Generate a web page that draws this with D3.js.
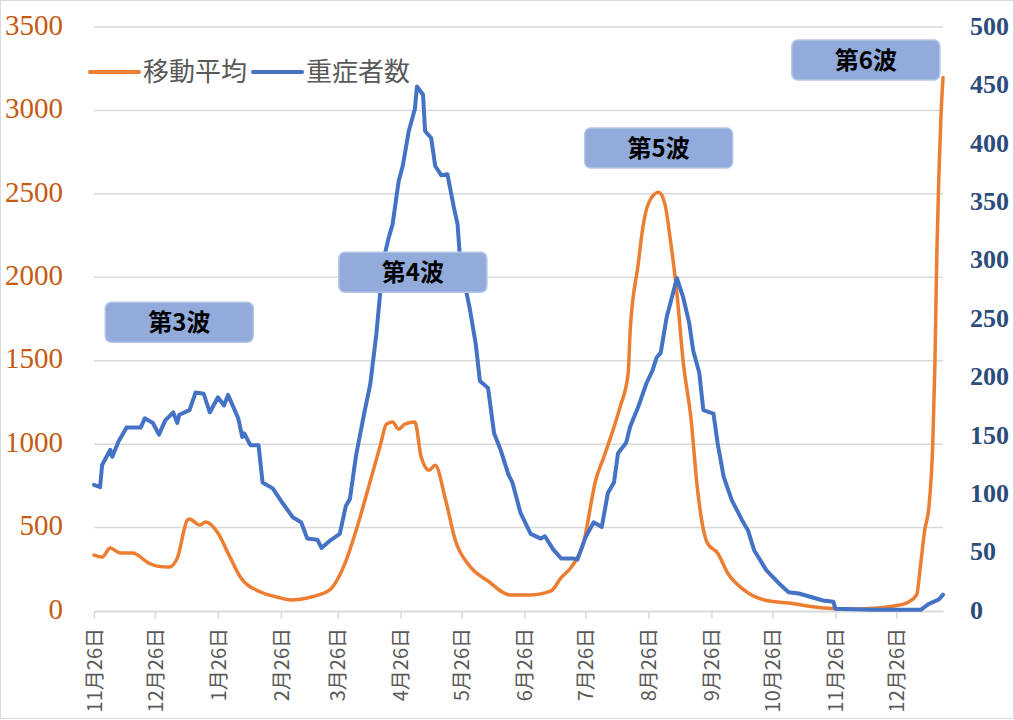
<!DOCTYPE html>
<html>
<head>
<meta charset="utf-8">
<script src="https://cdn.jsdelivr.net/npm/d3@7"></script>
<style>
  body { margin: 0; background: #fff; }
</style>
</head>
<body>
<script>
// 移動平均 (left axis)
const avgDates = [
  '2020-11-26','2020-11-30','2020-12-04','2020-12-09','2020-12-15','2020-12-23','2020-12-27',
  '2021-01-02','2021-01-06','2021-01-11','2021-01-12','2021-01-17','2021-01-20','2021-01-26','2021-01-31',
  '2021-02-06','2021-02-16','2021-02-24','2021-03-03','2021-03-13','2021-03-22','2021-03-29',
  '2021-04-05','2021-04-11','2021-04-16','2021-04-19','2021-04-22','2021-04-25','2021-04-28',
  '2021-05-03','2021-05-06','2021-05-10','2021-05-13','2021-05-18','2021-05-23','2021-05-30',
  '2021-06-08','2021-06-19','2021-06-29','2021-07-09','2021-07-14','2021-07-19','2021-07-25','2021-07-31',
  '2021-08-04','2021-08-09','2021-08-12','2021-08-16','2021-08-17','2021-08-21','2021-08-23','2021-08-26','2021-08-31',
  '2021-09-03','2021-09-06','2021-09-09','2021-09-12','2021-09-16','2021-09-19','2021-09-24','2021-09-29',
  '2021-10-04','2021-10-12','2021-10-22','2021-11-03','2021-11-19','2021-11-25','2021-12-09','2021-12-25',
  '2022-01-01','2022-01-05','2022-01-07','2022-01-09','2022-01-11','2022-01-13','2022-01-14','2022-01-15',
  '2022-01-16','2022-01-17','2022-01-18'
]
const avgValues = [
  335, 323, 377, 347, 347, 287, 269,
  263, 317, 545, 551, 515, 533, 467, 347,
  204, 114, 84, 66, 84, 126, 269,
  521, 778, 994, 1120, 1132, 1090, 1120,
  1132, 928, 844, 874, 671, 419, 269,
  180, 96, 96, 120, 200, 263, 407, 784,
  922, 1102, 1222, 1425, 1683, 2084, 2281, 2443, 2509,
  2443, 2204, 1904, 1503, 1144, 743, 407, 347,
  228, 126, 66, 48, 20, 15, 12, 30,
  54, 96, 281, 485, 617, 1018, 1473, 2162,
  2623, 2964, 3198
]

// 重症者数 (right axis)
const severeDates = [
  '2020-11-26','2020-11-29','2020-11-30','2020-12-04','2020-12-05','2020-12-08','2020-12-12','2020-12-19',
  '2020-12-21','2020-12-25','2020-12-28','2020-12-31',
  '2021-01-04','2021-01-06','2021-01-07','2021-01-12','2021-01-15','2021-01-19','2021-01-22','2021-01-26',
  '2021-01-29','2021-01-31','2021-02-05','2021-02-07','2021-02-08','2021-02-11','2021-02-15','2021-02-17',
  '2021-02-22','2021-02-27','2021-03-04','2021-03-08','2021-03-11','2021-03-16','2021-03-18','2021-03-22',
  '2021-03-27','2021-03-30','2021-04-01','2021-04-04','2021-04-08','2021-04-11','2021-04-14','2021-04-16',
  '2021-04-18','2021-04-20','2021-04-22','2021-04-25','2021-04-27','2021-04-30','2021-05-03','2021-05-04',
  '2021-05-07','2021-05-08','2021-05-11','2021-05-13','2021-05-16','2021-05-19','2021-05-22','2021-05-24',
  '2021-05-25','2021-05-28','2021-05-30','2021-06-02','2021-06-04','2021-06-08','2021-06-11','2021-06-14',
  '2021-06-18','2021-06-20','2021-06-24','2021-06-29','2021-07-04','2021-07-06','2021-07-10','2021-07-14',
  '2021-07-20','2021-07-22','2021-07-26','2021-07-30','2021-08-03','2021-08-06','2021-08-09','2021-08-11',
  '2021-08-15','2021-08-17','2021-08-21','2021-08-25','2021-08-28','2021-08-30','2021-09-01','2021-09-04',
  '2021-09-06','2021-09-09','2021-09-12','2021-09-15','2021-09-17','2021-09-20','2021-09-22','2021-09-27',
  '2021-09-29','2021-10-02','2021-10-06','2021-10-11','2021-10-14','2021-10-17','2021-10-23','2021-10-29',
  '2021-11-03','2021-11-08','2021-11-14','2021-11-20','2021-11-25','2021-11-26','2021-12-14',
  '2022-01-07','2022-01-11','2022-01-16','2022-01-18'
]
const severeValues = [
  108, 106, 125, 138, 132, 145, 157, 157,
  165, 161, 151, 163,
  170, 161, 168, 172, 187, 186, 170, 183,
  176, 185, 165, 149, 152, 142, 142, 110,
  105, 92, 80, 76, 62, 61, 54, 60,
  66, 90, 96, 133, 169, 194, 237, 274,
  304, 319, 331, 368, 381, 411, 430, 449,
  442, 411, 405, 381, 373, 374, 347, 331,
  307, 276, 259, 228, 197, 191, 152, 139,
  117, 110, 84, 66, 62, 64, 53, 45,
  45, 44, 63, 76, 72, 101, 110, 135,
  144, 158, 175, 195, 206, 217, 221, 252,
  265, 285, 269, 247, 223, 204, 172, 169,
  144, 115, 95, 78, 69, 52, 35, 24,
  16, 15, 12, 9, 8, 2, 1,
  1, 6, 10, 14
]

const tickDates = [
  '2020-11-26','2020-12-26','2021-01-26','2021-02-26','2021-03-26','2021-04-26','2021-05-26',
  '2021-06-26','2021-07-26','2021-08-26','2021-09-26','2021-10-26','2021-11-26','2021-12-26'
]
const leftTicks = [0, 500, 1000, 1500, 2000, 2500, 3000, 3500]
const rightTicks = [0, 50, 100, 150, 200, 250, 300, 350, 400, 450, 500]
const seriesNames = ['移動平均', '重症者数']
const waveLabels = ['第3波', '第4波', '第5波', '第6波']
const waveDates = ['2021-01-07', '2021-05-02', '2021-08-31', '2021-12-11']
const waveValues = [1730, 2030, 2775, 3302]

const config = {
  width: 1014,
  height: 720,
  left: 94,
  right: 943,
  top: 27,
  bottom: 611,
  gridColor: '#d9d9d9',
  avgColor: '#ed7d31',
  severeColor: '#4472c4',
  leftTextColor: '#c55a11',
  rightTextColor: '#2c4d7b',
  textColor: '#595959',
  boxFill: '#92abdb',
  boxStroke: '#b4c5e8',
  boxWidth: 148,
  boxHeight: 40,
  cjk: '"Noto Sans CJK JP", "Noto Sans", sans-serif',
  serif: '"Liberation Serif", "DejaVu Serif", serif'
}

const parse = d3.timeParse('%Y-%m-%d')

const root = d3.select('body')
  .append('svg')
  .attr('width', config.width)
  .attr('height', config.height)
  .style('display', 'block')

// outer frame
root.append('rect')
  .attr('x', 0.5).attr('y', 0.5)
  .attr('width', config.width - 1).attr('height', config.height - 2)
  .attr('fill', '#fff')
  .attr('stroke', config.gridColor)

const x = d3.scaleTime()
  .domain([parse('2020-11-26'), parse('2022-01-18')])
  .range([config.left, config.right])
const yLeft = d3.scaleLinear().domain([0, 3500]).range([config.bottom, config.top])
const yRight = d3.scaleLinear().domain([0, 500]).range([config.bottom, config.top])

// gridlines (left axis)
root.append('g').selectAll('line')
  .data(leftTicks.filter(d => d > 0)).enter().append('line')
  .attr('x1', config.left).attr('x2', config.right)
  .attr('y1', d => yLeft(d)).attr('y2', d => yLeft(d))
  .attr('stroke', config.gridColor)
  .attr('stroke-width', 1.5)

// x axis
const xAxis = root.append('g')
  .attr('transform', `translate(0,${config.bottom})`)
  .call(d3.axisBottom(x)
    .tickValues(tickDates.map(parse))
    .tickFormat(d3.timeFormat('%-m月%d日'))
    .tickSize(8)
    .tickSizeOuter(0))
xAxis.select('.domain').attr('stroke', config.gridColor).attr('stroke-width', 2)
xAxis.selectAll('.tick line').attr('stroke', config.gridColor).attr('stroke-width', 1.5)
xAxis.selectAll('.tick text')
  .attr('transform', 'rotate(-90)')
  .attr('x', -17)
  .attr('y', 0)
  .attr('dy', '0.36em')
  .attr('text-anchor', 'end')
  .attr('fill', config.textColor)
  .style('font-family', config.cjk)
  .style('font-size', '20px')

// left axis labels
const leftAxis = root.append('g')
  .attr('transform', `translate(${config.left},0)`)
  .call(d3.axisLeft(yLeft).tickValues(leftTicks).tickFormat(d3.format('d')).tickSize(0).tickPadding(31))
leftAxis.select('.domain').remove()
leftAxis.selectAll('text')
  .attr('dy', '0.25em')
  .attr('fill', config.leftTextColor)
  .style('font-family', config.serif)
  .style('font-size', '29px')

// right axis labels
const rightAxis = root.append('g')
  .attr('transform', `translate(${config.right},0)`)
  .call(d3.axisRight(yRight).tickValues(rightTicks).tickFormat(d3.format('d')).tickSize(0).tickPadding(27))
rightAxis.select('.domain').remove()
rightAxis.selectAll('text')
  .attr('dy', '0.28em')
  .attr('fill', config.rightTextColor)
  .style('font-family', config.serif)
  .style('font-weight', 'bold')
  .style('font-size', '26px')

// series
const avgData = avgDates.map((d, i) => ({ date: parse(d), value: avgValues[i] }))
const severeData = severeDates.map((d, i) => ({ date: parse(d), value: severeValues[i] }))

root.append('path')
  .datum(avgData)
  .attr('fill', 'none')
  .attr('stroke', config.avgColor)
  .attr('stroke-width', 3.5)
  .attr('stroke-linejoin', 'round')
  .attr('stroke-linecap', 'round')
  .attr('d', d3.line().x(d => x(d.date)).y(d => yLeft(d.value)).curve(d3.curveMonotoneX))

root.append('path')
  .datum(severeData)
  .attr('fill', 'none')
  .attr('stroke', config.severeColor)
  .attr('stroke-width', 4)
  .attr('stroke-linejoin', 'round')
  .attr('stroke-linecap', 'round')
  .attr('d', d3.line().x(d => x(d.date)).y(d => yRight(d.value)))

// legend
const legendColors = [config.avgColor, config.severeColor]
const legendX = [90, 253]
const legend = root.append('g').selectAll('g')
  .data(seriesNames).enter().append('g')
  .attr('transform', (d, i) => `translate(${legendX[i]},72)`)
legend.append('line')
  .attr('x1', 0).attr('x2', 49)
  .attr('stroke', (d, i) => legendColors[i])
  .attr('stroke-width', 4)
  .attr('stroke-linecap', 'round')
legend.append('text')
  .attr('x', 53)
  .attr('dy', '0.36em')
  .attr('fill', config.textColor)
  .style('font-family', config.cjk)
  .style('font-size', '26px')
  .text(d => d)

// wave annotations
const waves = root.append('g').selectAll('g')
  .data(waveLabels).enter().append('g')
  .attr('transform', (d, i) => `translate(${x(parse(waveDates[i]))},${yLeft(waveValues[i])})`)
waves.append('rect')
  .attr('x', -config.boxWidth / 2)
  .attr('y', -config.boxHeight / 2)
  .attr('width', config.boxWidth)
  .attr('height', config.boxHeight)
  .attr('rx', 6)
  .attr('fill', config.boxFill)
  .attr('stroke', config.boxStroke)
  .attr('stroke-width', 1.5)
waves.append('text')
  .attr('text-anchor', 'middle')
  .attr('dy', '0.36em')
  .attr('fill', '#000')
  .style('font-family', config.cjk)
  .style('font-weight', 'bold')
  .style('font-size', '24px')
  .text(d => d)
</script>
</body>
</html>
